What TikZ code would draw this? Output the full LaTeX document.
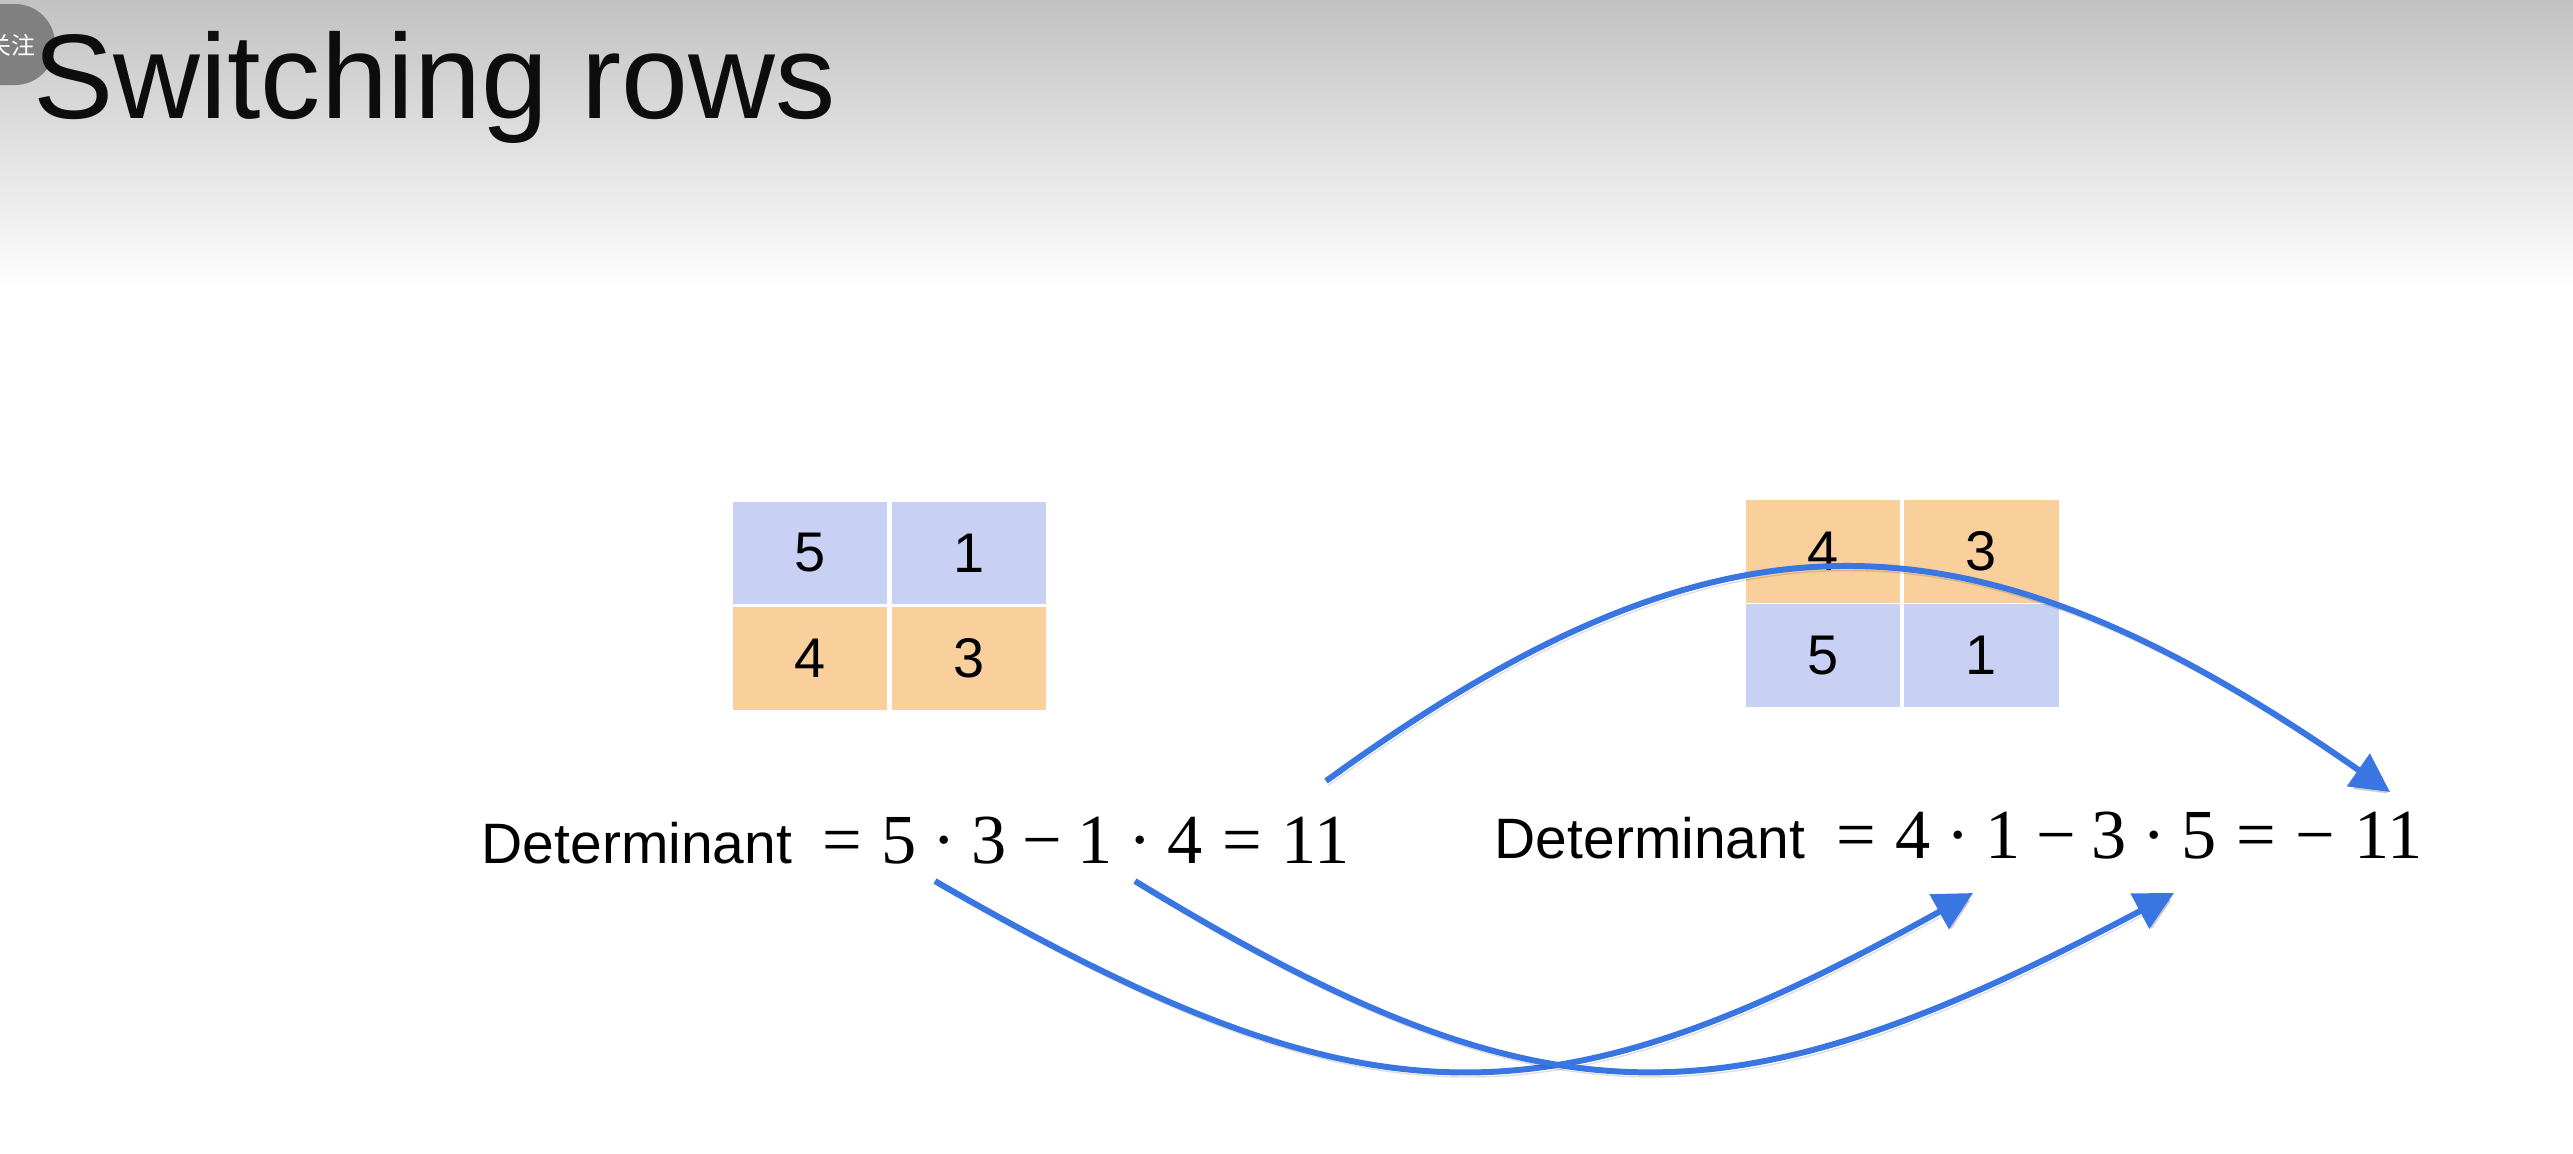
\documentclass[tikz,border=0pt]{standalone}
\usepackage{fontspec}
\setmainfont{Liberation Sans}
\newfontfamily\serifmath{Liberation Serif}
\newfontfamily\cjk{Noto Sans CJK SC}
\usetikzlibrary{arrows.meta}
\definecolor{arrowblue}{RGB}{58,118,225}
\definecolor{cellblue}{RGB}{200,208,244}
\definecolor{cellorange}{RGB}{249,207,155}
\definecolor{badgegray}{RGB}{128,128,128}
\definecolor{topgray}{RGB}{194,194,194}
\newcommand\myrelsp{\hspace{.278em}}
\newcommand\mybinsp{\hspace{.222em}}
\begin{document}
\begin{tikzpicture}[x=0.01cm,y=-0.01cm,
  cellbox/.style={minimum width=1.54cm, minimum height=1.02cm, inner sep=0pt, font=\fontsize{15.9}{16}\selectfont, text=black},
  bluecell/.style={cellbox, fill=cellblue},
  orangecell/.style={cellbox, fill=cellorange},
  detlabel/.style={inner sep=0pt, anchor=base west, font=\fontsize{16.2}{17}\selectfont, text=black},
  mathtext/.style={inner sep=0pt, anchor=base west, font=\serifmath\fontsize{20}{21}\selectfont, text=black},
  swaparrow/.style={draw=arrowblue, line width=1.7pt, -{Triangle[length=11pt,width=11pt]},
    preaction={draw=black, opacity=.13, transform canvas={shift={(0.6pt,-1.3pt)}}}}
]
\useasboundingbox (0,0) rectangle (2573,1153);
\fill[white] (0,0) rectangle (2573,1153);
\shade[top color=topgray, bottom color=white] (0,0) rectangle (2573,290);

% badge
\begin{scope}
\clip (0,0) rectangle (2573,1153);
\fill[badgegray, rounded corners=0.4cm] (-80,4) rectangle (55,85);
\node[anchor=east, inner sep=0pt, text=white, font=\cjk\fontsize{6.8}{7}\selectfont] (badge) at (36,45) {关注};
\end{scope}

% title
\node[anchor=base west, inner sep=0pt, font=\fontsize{34.2}{35}\selectfont, text=black!95] (title) at (33,118) {Switching rows};

% left matrix
\node[bluecell]   (l11) at (810,553) {5};
\node[bluecell]   (l12) at (969,553) {1};
\node[orangecell] (l21) at (810,658.5) {4};
\node[orangecell] (l22) at (969,658.5) {3};

% right matrix
\node[orangecell] (r11) at (1823,551.5) {4};
\node[orangecell] (r12) at (1981.5,551.5) {3};
\node[bluecell]   (r21) at (1823,655.5) {5};
\node[bluecell]   (r22) at (1981.5,655.5) {1};

% equations
\node[detlabel] (ldet) at (481,863) {Determinant};
\node[mathtext] (lmath) at (822,863) {=\myrelsp 5\mybinsp·\mybinsp 3\mybinsp−\mybinsp 1\mybinsp·\mybinsp 4\myrelsp=\myrelsp 11};
\node[detlabel] (rdet) at (1494,858) {Determinant};
\node[mathtext] (rmath) at (1836,858) {=\myrelsp 4\mybinsp·\mybinsp 1\mybinsp−\mybinsp 3\mybinsp·\mybinsp 5\myrelsp=\myrelsp −\myrelsp 11};

% arrow end points
\coordinate (aStart) at (1326,781);
\coordinate (aEnd)   at (2390,792);
\coordinate (bStart) at (935,881);
\coordinate (bEnd)   at (1973,893);
\coordinate (cStart) at (1135,881);
\coordinate (cEnd)   at (2174,893);

\draw[swaparrow] (aStart) .. controls (1718,496) and (1967,496) .. (aEnd);
\draw[swaparrow] (bStart) .. controls (1368,1131) and (1544,1131) .. (bEnd);
\draw[swaparrow] (cStart) .. controls (1545,1131) and (1725,1131) .. (cEnd);
\end{tikzpicture}
\end{document}
